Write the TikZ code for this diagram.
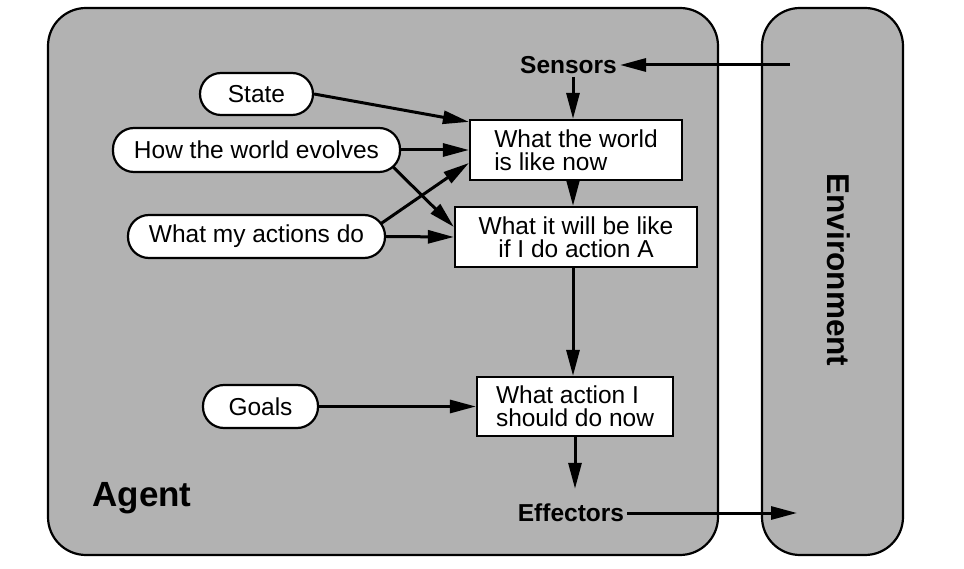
\documentclass[tikz,border=0pt]{standalone}
\usepackage{fontspec}
\setmainfont{Liberation Sans}
\usetikzlibrary{arrows.meta,calc}
\pgfdeclarelayer{back}
\pgfdeclarelayer{mid}
\pgfsetlayers{back,mid,main}
\begin{document}
\begin{tikzpicture}[x=1pt,y=1pt,
  panel/.style={draw=black, line width=2.2pt, fill=black!30, rounded corners=38pt, inner sep=0pt},
  oval/.style={draw, line width=2.2pt, fill=white, rounded corners=21pt, inner sep=0pt, font=\fontsize{24.5}{23}\selectfont},
  box/.style={draw, line width=2.2pt, fill=white, minimum height=60pt, inner sep=2pt, font=\fontsize{24.5}{23}\selectfont},
  lbl/.style={font=\fontsize{24.5}{28}\selectfont\bfseries, inner sep=3pt},
  arr/.style={line width=3pt, -{Triangle[length=26pt,width=13pt]}}
]
\useasboundingbox (0,0) rectangle (964,568);
\begin{pgfonlayer}{back}
\node[panel, minimum width=670pt, minimum height=547pt] (agentbox) at (383,286.5) {};
\node[panel, minimum width=141pt, minimum height=547pt] (envbox) at (832.5,286.5) {};
\end{pgfonlayer}

\node[oval, minimum width=113pt, minimum height=42pt] (state) at (256.5,474) {State};
\node[oval, minimum width=287pt, minimum height=44pt] (hwe) at (256.5,418) {How the world evolves};
\node[oval, minimum width=257pt, minimum height=43pt] (wmad) at (256.5,331.5) {What my actions do};
\node[oval, minimum width=115pt, minimum height=43pt] (goals) at (260.5,161.5) {Goals};

\node[box, minimum width=212pt, align=left] (w1) at (576,418) {What the world\\is like now};
\node[box, minimum width=242pt, align=center] (w2) at (576,331) {What it will be like\\if I do action A};
\node[box, minimum width=196pt, align=left, minimum height=59pt] (w3) at (575,161.5) {What action I\\should do now};

\node[lbl] (sensors) at (568.5,503) {Sensors};
\node[lbl] (effectors) at (571,55) {Effectors};
\node[font=\fontsize{35}{40}\selectfont\bfseries, inner sep=2pt] (agent) at (142,69.5) {Agent};
\node[font=\fontsize{31.5}{36}\selectfont\bfseries, rotate=-90, inner sep=2pt] (env) at (839,298) {Environment};

\coordinate (ein) at (790,503);
\coordinate (eout) at (797,55);

\begin{pgfonlayer}{mid}
\draw[arr] (ein) -- (sensors.east);
\draw[arr] ($(w1.north |- sensors.south)+(-3,0)$) -- ($(w1.north)+(-3,0)$);
\draw[arr] ($(w1.south)+(-3,0)$) -- ($(w2.north)+(-3,0)$);
\draw[arr] ($(w3.north |- w2.south)+(-2,0)$) -- ($(w3.north)+(-2,0)$);
\draw[arr] (w3.south) -- ($(w3.south |- effectors.north)+(0,12)$);
\draw[arr] (effectors.east) -- (eout);
\draw[arr] (state.east) -- ($(w1.north west)+(0,-3)$);
\draw[arr] (hwe.east) -- (w1.west);
\draw[arr] ($(hwe.east)+(-10,-15)$) -- ($(w2.west)+(0,10)$);
\draw[arr] ($(wmad.east)+(-5,13)$) -- ($(w1.west)+(0,-13)$);
\draw[arr] (wmad.east) -- (w2.west);
\draw[arr] (goals.east) -- (w3.west);
\end{pgfonlayer}
\end{tikzpicture}
\end{document}
